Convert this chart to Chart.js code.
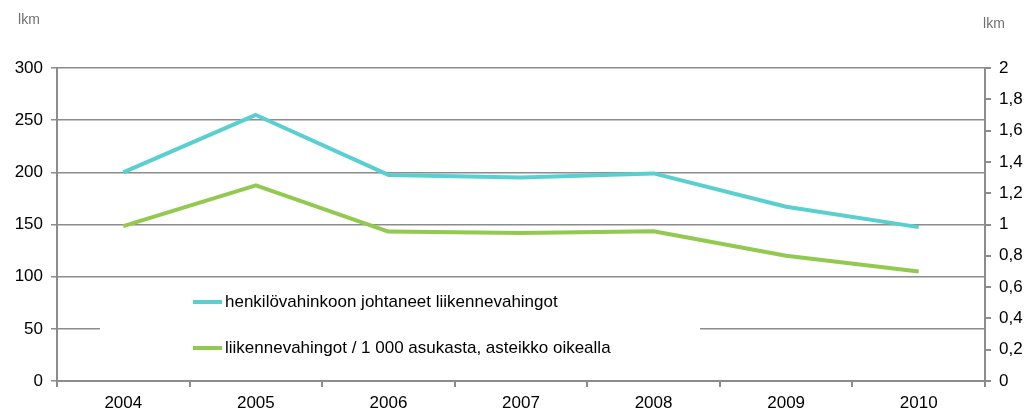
<!DOCTYPE html>
<html>
<head>
<meta charset="utf-8">
<script src="https://cdn.jsdelivr.net/npm/chart.js@4/dist/chart.umd.min.js"></script>
<style>
  html, body { margin: 0; padding: 0; background: #fff; }
  #wrap { width: 1035px; height: 419px; }
</style>
</head>
<body>
<div id="wrap"><canvas id="myChart" width="1035" height="419"></canvas></div>
<script>
// data
const years = ['2004', '2005', '2006', '2007', '2008', '2009', '2010'];
const accidents = [200, 255, 197.5, 195, 199, 167, 147.5];
const perThousand = [0.99, 1.25, 0.955, 0.945, 0.957, 0.80, 0.70];
const seriesNames = [
    'henkilövahinkoon johtaneet liikennevahingot',
    'liikennevahingot / 1 000 asukasta, asteikko oikealla'
];
const unitLabel = 'lkm';

const FONT = "'Liberation Sans', Arial, sans-serif";
const gridColor = '#8c8c8c';

// legend box + "lkm" titles drawn by hand
const extras = {
    id: 'extras',
    beforeDatasetsDraw(chart) {
        const ctx = chart.ctx;
        ctx.save();
        ctx.fillStyle = '#fff';
        ctx.fillRect(100, 285, 600, 90);
        const rows = [302, 348];
        chart.data.datasets.forEach((ds, i) => {
            ctx.strokeStyle = ds.borderColor;
            ctx.lineWidth = 4;
            ctx.beginPath();
            ctx.moveTo(193, rows[i]);
            ctx.lineTo(222, rows[i]);
            ctx.stroke();
            ctx.fillStyle = '#000';
            ctx.font = '17px ' + FONT;
            ctx.textBaseline = 'middle';
            ctx.textAlign = 'left';
            ctx.fillText(ds.label, 225, rows[i]);
        });
        ctx.fillStyle = '#707070';
        ctx.font = '14px ' + FONT;
        ctx.textAlign = 'center';
        ctx.textBaseline = 'middle';
        ctx.fillText(unitLabel, 29, 20);
        ctx.fillText(unitLabel, 994, 24);
        ctx.restore();
    }
};

const ctx = document.getElementById('myChart').getContext('2d');
const chart = new Chart(ctx, {
    type: 'line',
    data: {
        labels: years,
        datasets: [{
            label: seriesNames[0],
            data: accidents,
            borderColor: '#5acfd0',
            borderWidth: 4,
            pointRadius: 0,
            yAxisID: 'y'
        }, {
            label: seriesNames[1],
            data: perThousand,
            borderColor: '#92c94f',
            borderWidth: 4,
            pointRadius: 0,
            yAxisID: 'y1'
        }]
    },
    options: {
        responsive: false,
        animation: false,
        layout: { padding: { top: 68, left: 0, right: 0, bottom: 0 } },
        plugins: { legend: { display: false }, tooltip: { enabled: false } },
        elements: { line: { tension: 0, borderJoinStyle: 'round' } },
        scales: {
            x: {
                offset: true,
                afterFit(s) { s.height = 38; },
                grid: { offset: true, drawOnChartArea: false, drawTicks: true, tickLength: 6, color: gridColor, lineWidth: 2 },
                border: { color: gridColor, width: 2 },
                ticks: { color: '#000', font: { family: FONT, size: 17 }, padding: 6 }
            },
            y: {
                position: 'left',
                min: 0, max: 300,
                afterFit(s) { s.width = 57; },
                grid: { color: gridColor, lineWidth: 1.5, tickLength: 6 },
                border: { color: gridColor, width: 2 },
                ticks: { stepSize: 50, color: '#000', font: { family: FONT, size: 17 }, padding: 8 }
            },
            y1: {
                position: 'right',
                min: 0, max: 2,
                afterFit(s) { s.width = 50; },
                grid: { drawOnChartArea: false, color: gridColor, lineWidth: 2, tickLength: 6 },
                border: { color: gridColor, width: 2 },
                ticks: {
                    stepSize: 0.2, color: '#000', font: { family: FONT, size: 17 }, padding: 8,
                    callback: v => String(Math.round(v * 10) / 10).replace('.', ',')
                }
            }
        }
    },
    plugins: [extras]
});
</script>
</body>
</html>
